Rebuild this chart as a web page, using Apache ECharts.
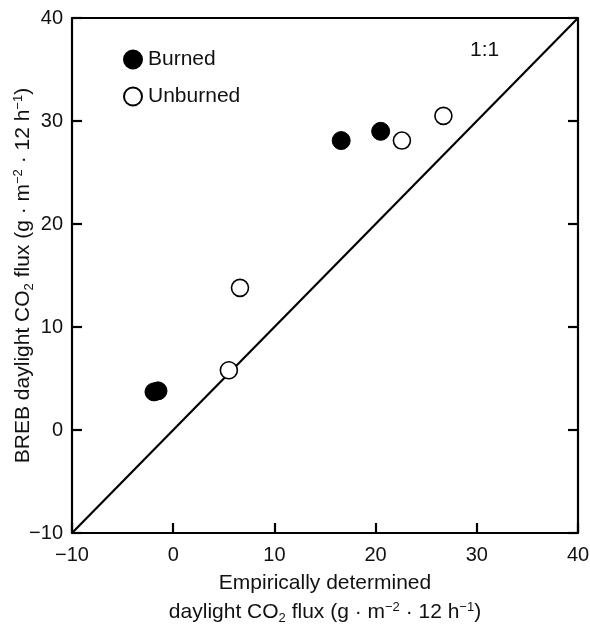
<!DOCTYPE html>
<html>
<head>
<meta charset="utf-8">
<script src="https://cdn.jsdelivr.net/npm/echarts@6/dist/echarts.min.js"></script>
<style>
  html, body { margin: 0; padding: 0; background: #fff; }
  #chart { width: 590px; height: 624px; }
</style>
</head>
<body>
<div id="chart"></div>
<script>
// Empirically determined vs. BREB daylight CO2 flux (g m-2 12 h-1)
const burnedX = [-1.9, -1.5, 16.6, 20.5];
const burnedY = [3.7, 3.8, 28.1, 29.0];
const unburnedX = [5.5, 6.6, 22.6, 26.7];
const unburnedY = [5.8, 13.8, 28.1, 30.5];
const oneToOne = [-10, 40];
const axisMin = -10, axisMax = 40, axisStep = 10;

const FONT = 'Liberation Sans, Arial, Helvetica, sans-serif';
const pairs = (xs, ys) => xs.map((x, i) => [x, ys[i]]);

const unitRich = {
  a: { fontSize: 21, fontFamily: FONT, color: '#111', verticalAlign: 'middle', lineHeight: 29 },
  s: { fontSize: 13, fontFamily: FONT, color: '#111', verticalAlign: 'bottom', lineHeight: 29, padding: [0, 0, 2, 0] },
  p: { fontSize: 13, fontFamily: FONT, color: '#111', verticalAlign: 'top', lineHeight: 29, padding: [3, 0, 0, 0] }
};
const unitText = '{a|daylight CO}{s|2}{a| flux (g · m}{p|−2}{a| · 12 h}{p|−1}{a|)}';
const tickFmt = v => (v < 0 ? '−' + Math.abs(v) : '' + v);

const axisCommon = {
  type: 'value',
  min: axisMin,
  max: axisMax,
  interval: axisStep,
  splitLine: { show: false },
  axisLine: { show: true, onZero: false, lineStyle: { color: '#000', width: 2.2 } },
  axisTick: { show: true, inside: true, length: 10, lineStyle: { color: '#000', width: 2.2 } }
};

const chart = echarts.init(document.getElementById('chart'), null, { renderer: 'canvas' });
chart.setOption({
  animation: false,
  backgroundColor: '#fff',
  grid: { left: 72, right: 12, top: 18, bottom: 91, containLabel: false, outerBoundsMode: 'none' },
  xAxis: [
    Object.assign({}, axisCommon, {
      position: 'bottom',
      axisLabel: { fontSize: 20, fontFamily: FONT, color: '#111', margin: 12, formatter: tickFmt },
      name: '{a|Empirically determined}\n' + unitText,
      nameLocation: 'middle',
      nameGap: 36,
      nameTextStyle: { rich: unitRich, align: 'center' }
    }),
    Object.assign({}, axisCommon, {
      position: 'top',
      axisTick: { show: false },
      axisLabel: { show: false }
    })
  ],
  yAxis: [
    Object.assign({}, axisCommon, {
      position: 'left',
      axisLabel: { fontSize: 20, fontFamily: FONT, color: '#111', margin: 9, formatter: tickFmt },
      name: '{a|BREB daylight CO}{s|2}{a| flux (g · m}{p|−2}{a| · 12 h}{p|−1}{a|)}',
      nameLocation: 'middle',
      nameGap: 34,
      nameMoveOverlap: false,
      nameRotate: 90,
      nameTextStyle: { rich: unitRich }
    }),
    Object.assign({}, axisCommon, {
      position: 'right',
      axisLabel: { show: false }
    })
  ],
  legend: {
    orient: 'vertical',
    left: 118,
    top: 44,
    itemGap: 16,
    itemWidth: 18,
    itemHeight: 18,
    textStyle: { fontSize: 21, fontFamily: FONT, color: '#111', padding: [0, 0, 0, 1] },
    data: [
      { name: 'Burned', icon: 'circle' },
      { name: 'Unburned', icon: 'circle' }
    ]
  },
  graphic: [
    { type: 'text', left: 470, top: 40,
      style: { text: '1:1', fontSize: 21, fontFamily: FONT, fill: '#111' } }
  ],
  series: [
    {
      name: '1:1',
      type: 'line',
      data: pairs(oneToOne, oneToOne),
      showSymbol: false,
      symbol: 'none',
      lineStyle: { color: '#000', width: 2.2 },
      silent: true,
      z: 1
    },
    {
      name: 'Burned',
      type: 'scatter',
      data: pairs(burnedX, burnedY),
      symbol: 'circle',
      symbolSize: 18,
      itemStyle: { color: '#000', borderColor: '#000', borderWidth: 1, opacity: 1 },
      z: 3
    },
    {
      name: 'Unburned',
      type: 'scatter',
      data: pairs(unburnedX, unburnedY),
      symbol: 'circle',
      symbolSize: 17,
      itemStyle: { color: '#fff', borderColor: '#000', borderWidth: 1.6, opacity: 1 },
      z: 3
    }
  ]
});
</script>
</body>
</html>
